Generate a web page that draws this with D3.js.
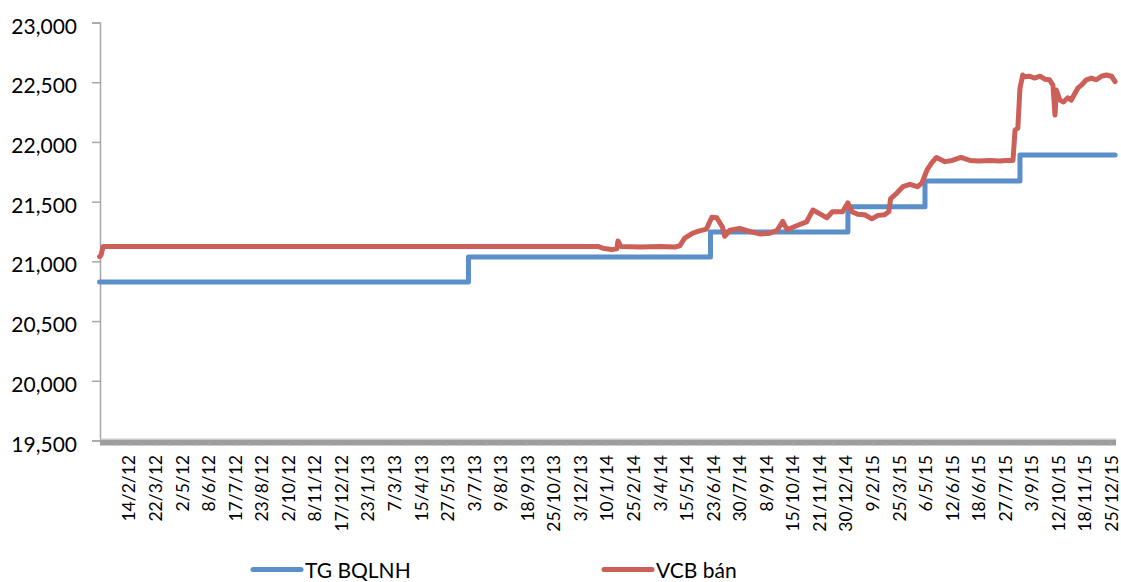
<!DOCTYPE html>
<html>
<head>
<meta charset="utf-8">
<script src="https://cdn.jsdelivr.net/npm/d3@7/dist/d3.min.js"></script>
<style>
  html, body { margin: 0; padding: 0; background: #fff; }
  svg { display: block; font-family: Lato, "Open Sans", sans-serif; }
</style>
</head>
<body>
<svg id="chart" width="1121" height="582"></svg>
<script>
// Category labels shown under the axis (d/m/yy)
const tickLabels = [
  "14/2/12", "22/3/12", "2/5/12", "8/6/12", "17/7/12", "23/8/12", "2/10/12", "8/11/12",
  "17/12/12", "23/1/13", "7/3/13", "15/4/13", "27/5/13", "3/7/13", "9/8/13", "18/9/13",
  "25/10/13", "3/12/13", "10/1/14", "25/2/14", "3/4/14", "15/5/14", "23/6/14", "30/7/14",
  "8/9/14", "15/10/14", "21/11/14", "30/12/14", "9/2/15", "25/3/15", "6/5/15", "12/6/15",
  "18/6/15", "27/7/15", "3/9/15", "12/10/15", "18/11/15", "25/12/15"
];

const yTicks = [19500, 20000, 20500, 21000, 21500, 22000, 22500, 23000];

// Interbank average rate: dates where a new level takes effect
const tgDates  = ["4/1/12", "25/6/13", "19/6/14", "2/1/15", "5/5/15", "17/8/15", "30/12/15"];
const tgValues = [20828, 21036, 21246, 21458, 21673, 21890, 21890];

// Vietcombank selling rate
const vcbDates = [
  "4/1/12", "6/1/12", "9/1/12", "28/12/13", "4/1/14", "18/1/14", "27/1/14", "29/1/14",
  "3/2/14", "6/3/14", "3/4/14", "26/4/14", "4/5/14", "12/5/14", "24/5/14", "3/6/14",
  "13/6/14", "21/6/14", "28/6/14", "6/7/14", "9/7/14", "16/7/14", "30/7/14", "14/8/14",
  "29/8/14", "13/9/14", "23/9/14", "1/10/14", "7/10/14", "21/10/14", "3/11/14", "12/11/14",
  "21/11/14", "2/12/14", "10/12/14", "25/12/14", "2/1/15", "8/1/15", "17/1/15", "28/1/15",
  "8/2/15", "18/2/15", "1/3/15", "8/3/15", "11/3/15", "21/3/15", "31/3/15", "11/4/15",
  "23/4/15", "30/4/15", "8/5/15", "14/5/15", "21/5/15", "2/6/15", "12/6/15", "14/6/15",
  "16/6/15", "18/6/15", "4/7/15", "19/7/15", "27/7/15", "7/8/15", "10/8/15", "14/8/15",
  "17/8/15", "21/8/15", "24/8/15", "31/8/15", "7/9/15", "15/9/15", "22/9/15", "29/9/15",
  "4/10/15", "7/10/15", "9/10/15", "14/10/15", "19/10/15", "25/10/15", "30/10/15", "3/11/15",
  "8/11/15", "13/11/15", "20/11/15", "27/11/15", "4/12/15", "11/12/15", "18/12/15", "25/12/15",
  "30/12/15"
];
const vcbValues = [
  21040, 21050, 21125, 21125, 21110, 21100, 21105, 21170,
  21125, 21120, 21125, 21120, 21130, 21195, 21237, 21255,
  21270, 21370, 21365, 21285, 21210, 21260, 21275, 21250,
  21230, 21235, 21260, 21335, 21265, 21300, 21330, 21430,
  21400, 21365, 21415, 21415, 21490, 21415, 21395, 21390,
  21355, 21385, 21390, 21415, 21525, 21570, 21625, 21645,
  21625, 21655, 21765, 21820, 21870, 21835, 21845, 21870,
  21845, 21840, 21845, 21840, 21845, 21845, 22100, 22115,
  22450, 22560, 22545, 22550, 22535, 22550, 22525, 22520,
  22475, 22225, 22435, 22350, 22335, 22370, 22350, 22395,
  22450, 22475, 22520, 22535, 22520, 22550, 22560, 22550,
  22505
];

const seriesNames = ["TG BQLNH", "VCB bán"];
const seriesColors = ["#5b8fc9", "#cc5f57"];

const parse = d3.timeParse("%d/%m/%y");

const svg = d3.select("#chart");
const plot = { left: 100, right: 1116, top: 22.5, bottom: 440.5 };

// Labels sit evenly along the axis; dates map piecewise between them
const xLabel = d3.scalePoint().domain(tickLabels).range([129, 1111.5]);
const labelDates = tickLabels.map(parse);
const x = d3.scaleTime()
  .domain(labelDates)
  .range(tickLabels.map(l => xLabel(l)));

const y = d3.scaleLinear().domain([19500, 23000]).range([plot.bottom, plot.top]);

// Y axis
const yAxis = svg.append("g")
  .attr("transform", `translate(${plot.left},0)`)
  .call(d3.axisLeft(y).tickValues(yTicks).tickFormat(d3.format(",")).tickSize(8).tickPadding(15));
yAxis.select(".domain").attr("stroke", "#a6a6a6").attr("stroke-width", 1.5);
yAxis.selectAll(".tick line").attr("stroke", "#a6a6a6").attr("stroke-width", 1.5);
yAxis.selectAll(".tick text")
  .attr("font-size", 21)
  .attr("font-family", "Lato, sans-serif")
  .attr("fill", "#000")
  .attr("dy", "0.5em");

// X axis base bar
svg.append("line")
  .attr("x1", plot.left).attr("x2", plot.right)
  .attr("y1", 442.5).attr("y2", 442.5)
  .attr("stroke", "#9d9d9d").attr("stroke-width", 6);
svg.append("line")
  .attr("x1", plot.left).attr("x2", plot.right)
  .attr("y1", 439).attr("y2", 439)
  .attr("stroke", "#c8c8c8").attr("stroke-width", 1);

// Faint tick marks along the bar (at labels and halfway between)
const step = xLabel.step();
const tickPos = [];
tickLabels.forEach(l => { tickPos.push(xLabel(l) - step / 2); tickPos.push(xLabel(l)); });
svg.append("g").selectAll("line")
  .data(tickPos.filter(p => p > plot.left + 2 && p < plot.right - 2))
  .join("line")
  .attr("x1", d => d).attr("x2", d => d)
  .attr("y1", 443).attr("y2", 446)
  .attr("stroke", "#b2b2b2").attr("stroke-width", 0.8);

// X labels, rotated
const xAxis = svg.append("g")
  .attr("transform", `translate(0,${plot.bottom})`)
  .call(d3.axisBottom(xLabel).tickSize(0));
xAxis.select(".domain").remove();
xAxis.selectAll(".tick text")
  .attr("transform", "rotate(-90)")
  .attr("x", -14.5)
  .attr("y", 0)
  .attr("dy", "0.34em")
  .attr("text-anchor", "end")
  .attr("font-size", 17.5)
  .attr("font-family", "Lato, sans-serif")
  .attr("fill", "#000");

// Series
const tgData = tgDates.map((d, i) => ({ date: parse(d), value: tgValues[i] }));
const vcbData = vcbDates.map((d, i) => ({ date: parse(d), value: vcbValues[i] }));

svg.append("path")
  .datum(tgData)
  .attr("fill", "none")
  .attr("stroke", seriesColors[0])
  .attr("stroke-width", 5)
  .attr("stroke-linejoin", "round")
  .attr("stroke-linecap", "round")
  .attr("d", d3.line().x(d => x(d.date)).y(d => y(d.value)).curve(d3.curveStepAfter));

svg.append("path")
  .datum(vcbData)
  .attr("fill", "none")
  .attr("stroke", seriesColors[1])
  .attr("stroke-width", 5)
  .attr("stroke-linejoin", "round")
  .attr("stroke-linecap", "round")
  .attr("d", d3.line().x(d => x(d.date)).y(d => y(d.value)));

// Legend
const legendX = [253, 604];
const legend = svg.append("g");
seriesNames.forEach((name, i) => {
  legend.append("line")
    .attr("x1", legendX[i]).attr("x2", legendX[i] + 48)
    .attr("y1", 569.5).attr("y2", 569.5)
    .attr("stroke", seriesColors[i]).attr("stroke-width", 5)
    .attr("stroke-linecap", "round");
  legend.append("text")
    .attr("x", legendX[i] + 52)
    .attr("y", 577.5)
    .attr("font-size", 21)
    .attr("font-family", "Lato, sans-serif")
    .attr("fill", "#000")
    .text(name);
});
</script>
</body>
</html>
